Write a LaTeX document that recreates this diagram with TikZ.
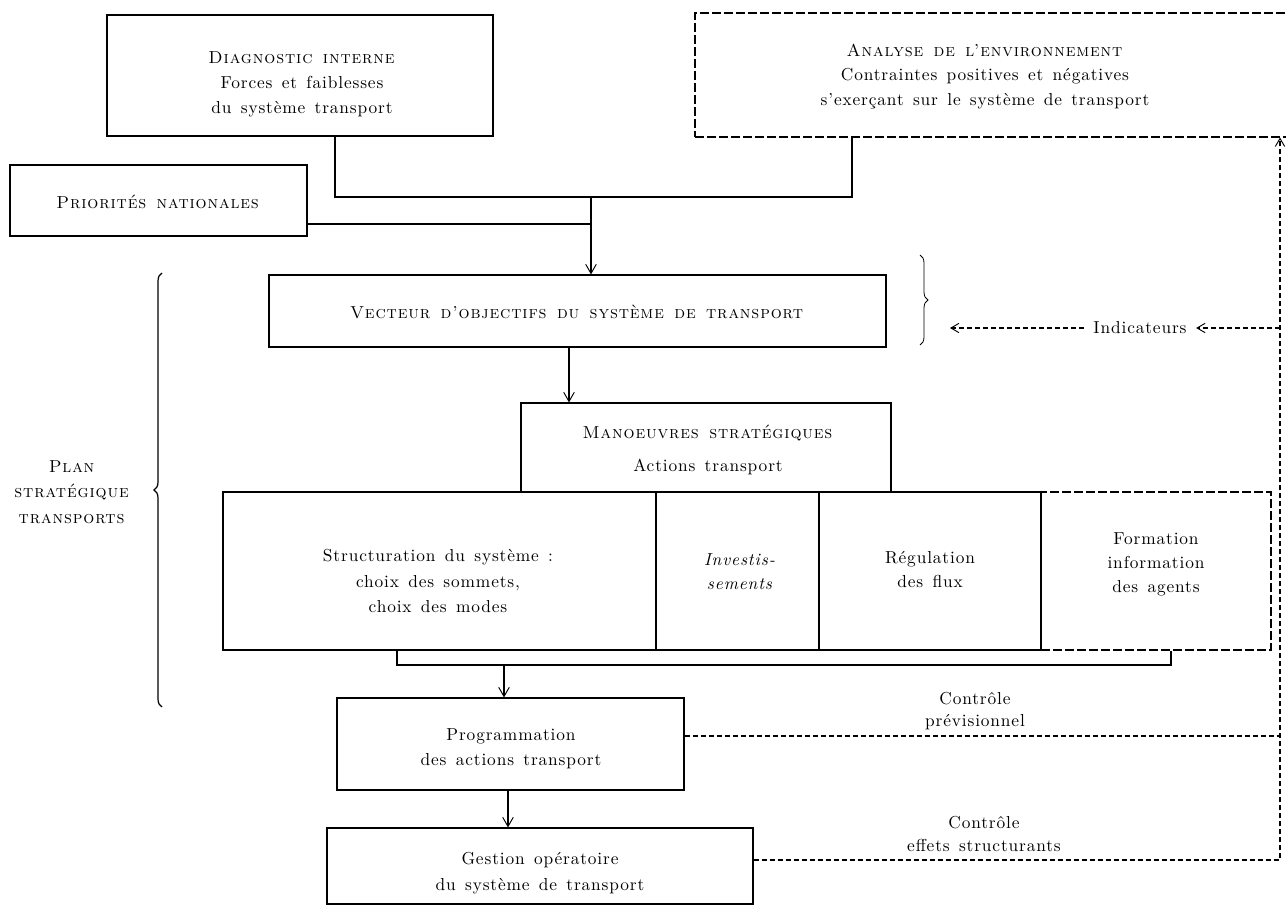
\documentclass[tikz,border=0pt]{standalone}
\usepackage{fontspec}
\setmainfont{lmroman10-regular.otf}[ItalicFont=lmroman10-italic.otf, SmallCapsFont=lmromancaps10-regular.otf, LetterSpace=5, WordSpace=1.4]
\usetikzlibrary{arrows.meta,decorations.pathreplacing}
\begin{document}
\begin{tikzpicture}[x=0.75pt,y=-0.75pt,
  sz/.style 2 args={minimum width=#1*0.75pt,minimum height=#2*0.75pt},
  box/.style={draw,line width=0.8pt,inner sep=0pt,rectangle},
  dbox/.style={box,dash pattern=on 7pt off 2pt},
  txt/.style={font=\fontsize{13}{15}\selectfont,inner sep=0pt,align=center},
  conn/.style={line width=0.8pt},
  arr/.style={conn,-{Straight Barb[length=7pt,width=8pt,line width=0.7pt]}},
  fb/.style={line width=0.8pt,dash pattern=on 4pt off 2pt},
  fbarr/.style={fb,-{Straight Barb[length=6pt,width=7pt,line width=0.7pt]}},
]
\useasboundingbox (0,0) rectangle (1286,909);

% top boxes
\node[box,sz={386}{121}] (diag) at (300,75.5) {};
\node[txt] (diagA) at (302,58) {\textsc{Diagnostic interne}};
\node[txt] (diagB) at (302,97) {Forces et faiblesses\\[4pt]du système transport};

\node[dbox,sz={605}{124}] (anal) at (997.5,75) {};
\node[txt] (analA) at (985,50) {\textsc{Analyse de l'environnement}};
\node[txt] (analB) at (985,89) {Contraintes positives et négatives\\[4pt]s'exerçant sur le système de transport};

\node[box,sz={297}{71}] (prio) at (158.5,200.5) {};
\node[txt] (prioT) at (158,202) {\textsc{Priorités nationales}};

% vecteur
\node[box,sz={617}{72}] (vect) at (577.5,311) {};
\node[txt] (vectT) at (577,312) {\textsc{Vecteur d'objectifs du système de transport}};

% manoeuvres
\node[box,sz={370}{89}] (man) at (706,447.5) {};
\node[txt] (manT) at (708,450) {\textsc{Manoeuvres stratégiques}\\[10pt]Actions transport};

% row of boxes
\node[box,sz={433}{158}] (struct) at (439.5,571) {};
\node[txt] (structT) at (438,581) {Structuration du système :\\[4pt]choix des sommets,\\[4pt]choix des modes};
\node[box,sz={163}{158}] (inv) at (737.5,571) {};
\node[txt] (invT) at (740,572) {\textit{Investis-}\\[3pt]\textit{sements}};
\node[box,sz={222}{158}] (reg) at (930,571) {};
\node[txt] (regT) at (930,570) {Régulation\\[3pt]des flux};
\node[dbox,sz={230}{158}] (form) at (1156,571) {};
\node[txt] (formT) at (1156,564) {Formation\\[3pt]information\\[3pt]des agents};

% programmation & gestion
\node[box,sz={347}{92}] (prog) at (510.5,744) {};
\node[txt] (progT) at (511,749) {Programmation\\[4pt]des actions transport};
\node[box,sz={426}{76}] (gest) at (540,866) {};
\node[txt] (gestT) at (540,873) {Gestion opératoire\\[4pt]du système de transport};

% plan strategique
\node[txt] (plan) at (72,492) {\textsc{Plan}\\[4pt]\textsc{stratégique}\\[4pt]\textsc{transports}};

% feedback labels
\node[txt,inner xsep=7pt] (ind) at (1140,328) {Indicateurs};
\node[txt] (cprev) at (975,711) {Contrôle\\[2pt]prévisionnel};
\node[txt] (ceff) at (984,834) {Contrôle\\[2pt]effets structurants};

% connectors top
\coordinate (d1) at (335,197);
\coordinate (a1) at (852,197);
\coordinate (j1) at (591,197);
\coordinate (p1) at (591,224);
\draw[conn] (d1 |- diag.south) -- (d1) -- (a1) -- (a1 |- anal.south);
\draw[conn] (p1 -| prio.east) -- (p1);
\draw[arr] (j1) -- (j1 |- vect.north);

\coordinate (v1) at (569,0);
\draw[arr] (vect.south -| v1) -- (man.north -| v1);

% bracket under row
\coordinate (b1) at (397,665);
\coordinate (b2) at (1171,665);
\coordinate (b3) at (504,665);
\draw[conn] (b1 |- struct.south) -- (b1) -- (b2) -- (b2 |- form.south);
\draw[arr] (b3) -- (b3 |- prog.north);
\coordinate (g1) at (508,0);
\draw[arr] (prog.south -| g1) -- (gest.north -| g1);

% feedback
\coordinate (r1) at (1280,736);
\coordinate (r2) at (1280,860);
\coordinate (r0) at (1280,0);
\coordinate (i1) at (1280,328);
\coordinate (i2) at (950,328);
\draw[fb] (r1 -| prog.east) -- (r1);
\draw[fbarr] (r2 -| gest.east) -- (r2) -- (r0 |- anal.south);
\draw[fbarr] (i1) -- (ind.east);
\draw[fbarr] (ind.west) -- (i2);

% braces
\draw[line width=0.6pt,decorate,decoration={brace,amplitude=6pt}] (920,255) -- (920,345);
\draw[line width=0.9pt,decorate,decoration={brace,amplitude=6pt}] (162,707) -- (162,273);
\end{tikzpicture}
\end{document}
